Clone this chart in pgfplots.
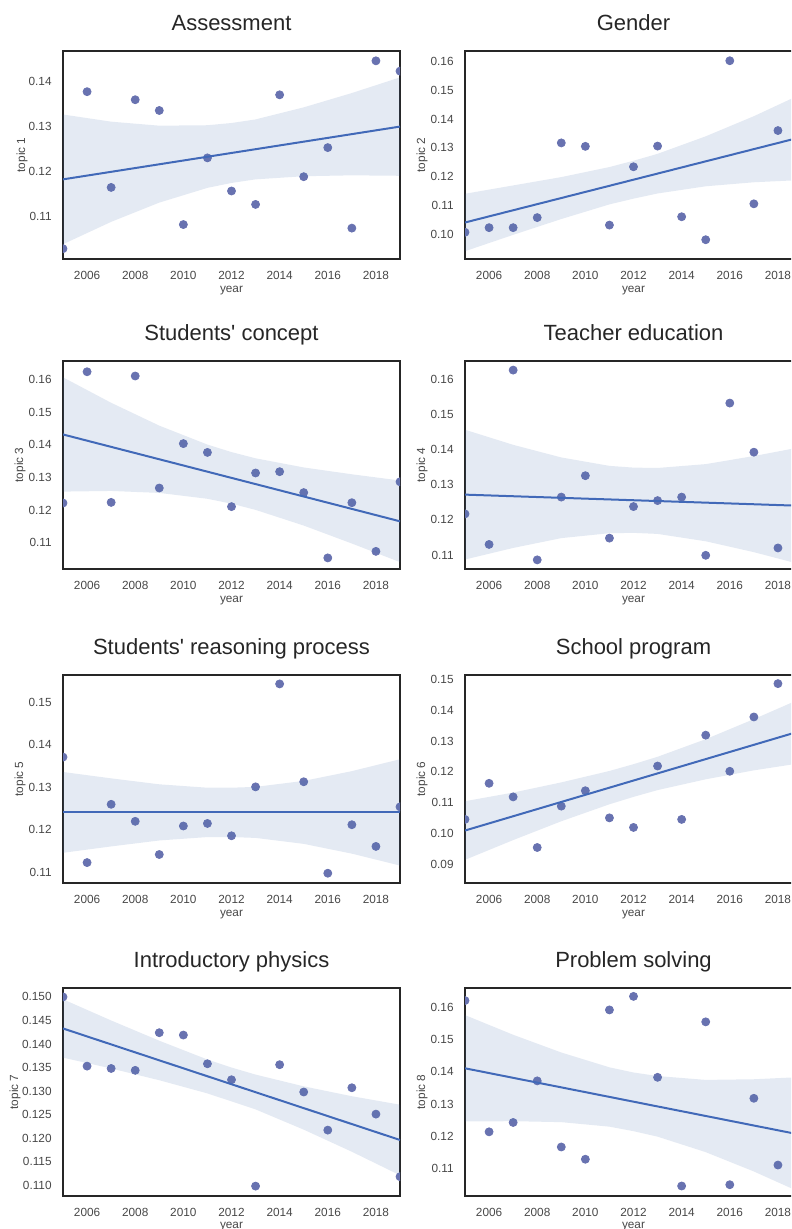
\documentclass[border=0pt]{standalone}
\usepackage{fontspec}
\setmainfont{Liberation Sans}
\usepackage{pgfplots}
\pgfplotsset{compat=1.18}
\definecolor{sbblue}{HTML}{4C72B0}
\definecolor{ptc}{HTML}{6872B0}
\definecolor{linec}{HTML}{4169B8}
\definecolor{txt}{HTML}{262626}
\newlength\px
\setlength\px{0.5pt}
\newcommand\ticksize{\fontsize{5.9pt}{7pt}\selectfont}
\newcommand\titlesize{\fontsize{11pt}{13pt}\selectfont}
\pgfplotsset{
  panel/.style={
    scale only axis, width=337\px, height=208\px,
    xmin=2005, xmax=2019,
    xtick={2006,2008,2010,2012,2014,2016,2018},
    xticklabels={2006,2008,2010,2012,2014,2016,2018},
    major tick length=0pt, tick style={draw=none},
    /pgf/number format/assume math mode=true,
    axis line style={draw=txt, line width=1pt},
    tick label style={font=\ticksize, text=txt!85},
    xticklabel style={anchor=north, inner sep=0pt, yshift=-6pt},
    yticklabel style={anchor=east, inner sep=0pt, xshift=-5.5pt},
    xlabel={year},
    xlabel style={font=\ticksize, text=txt!85, at={(axis description cs:0.5,0)}, anchor=north, inner sep=0pt, yshift=-13.5pt},
    ylabel style={font=\ticksize, text=txt!85, anchor=center, inner sep=0pt},
    title style={font=\titlesize, text=txt, at={(axis description cs:0.5,1)}, anchor=base, inner sep=0pt, yshift=4pt},
    clip marker paths=true,
    anchor=north west,
  },
  pts/.style={only marks, mark=*, mark size=2pt, color=ptc, mark options={solid, draw=ptc, fill=ptc, line width=0.4pt}},
  band/.style={fill=sbblue, fill opacity=0.15, draw=none},
  reg/.style={linec, line width=1pt},
}
\begin{document}
\begin{tikzpicture}
\path[use as bounding box, clip] (0,0) rectangle (791\px,1229\px);
% ---------------- Panel 1
\begin{axis}[panel, at={(63\px,1178\px)},
  ymin=0.1004, ymax=0.1469,
  ytick={0.11,0.12,0.13,0.14}, yticklabels={0.11,0.12,0.13,0.14},
  title={Assessment}, ylabel={topic 1},
  ylabel style={at={(axis description cs:-0.1217,0.5)}}]
\addplot[pts] coordinates {(2005,0.1027)(2006,0.1378)(2007,0.1164)(2008,0.1360)(2009,0.1336)(2010,0.1081)(2011,0.1230)(2012,0.1156)(2013,0.1126)(2014,0.1371)(2015,0.1188)(2016,0.1253)(2017,0.1073)(2018,0.1447)(2019,0.1424)};
\addplot[band] coordinates {(2005,0.1327)(2007,0.1311)(2009,0.1302)(2011,0.1303)(2012,0.1308)(2013,0.1316)(2015,0.1343)(2017,0.1375)(2019,0.1410)
 (2019,0.1190)(2017,0.1191)(2015,0.1189)(2013,0.1182)(2012,0.1174)(2011,0.1163)(2009,0.1130)(2007,0.1087)(2005,0.1037)};
\addplot[reg] coordinates {(2005,0.1182)(2019,0.1300)};
\end{axis}
% ---------------- Panel 2
\begin{axis}[panel, at={(465\px,1178\px)},
  ymin=0.0913, ymax=0.1637,
  ytick={0.10,0.11,0.12,0.13,0.14,0.15,0.16}, yticklabels={0.10,0.11,0.12,0.13,0.14,0.15,0.16},
  title={Gender}, ylabel={topic 2},
  ylabel style={at={(axis description cs:-0.1276,0.5)}}]
\addplot[pts] coordinates {(2005,0.1006)(2006,0.1022)(2007,0.1022)(2008,0.1057)(2009,0.1317)(2010,0.1305)(2011,0.1031)(2012,0.1234)(2013,0.1306)(2014,0.1060)(2015,0.0980)(2016,0.1603)(2017,0.1105)(2018,0.1360)(2019,0.1400)};
\addplot[band] coordinates {(2005,0.1140)(2007,0.1169)(2009,0.1198)(2011,0.1233)(2012,0.1255)(2013,0.1279)(2015,0.1340)(2017,0.1410)(2019,0.1488)
 (2019,0.1188)(2017,0.1180)(2015,0.1166)(2013,0.1141)(2012,0.1123)(2011,0.1103)(2009,0.1052)(2007,0.0997)(2005,0.0940)};
\addplot[reg] coordinates {(2005,0.1040)(2019,0.1338)};
\end{axis}
% ---------------- Panel 3
\begin{axis}[panel, at={(63\px,868\px)},
  ymin=0.1020, ymax=0.1657,
  ytick={0.11,0.12,0.13,0.14,0.15,0.16}, yticklabels={0.11,0.12,0.13,0.14,0.15,0.16},
  title={Students\textquotesingle{} concept}, ylabel={topic 3},
  ylabel style={at={(axis description cs:-0.1276,0.5)}}]
\addplot[pts] coordinates {(2005,0.1222)(2006,0.1624)(2007,0.1224)(2008,0.1611)(2009,0.1268)(2010,0.1404)(2011,0.1377)(2012,0.1211)(2013,0.1314)(2014,0.1318)(2015,0.1254)(2016,0.1054)(2017,0.1223)(2018,0.1074)(2019,0.1287)};
\addplot[band] coordinates {(2005,0.1607)(2007,0.1529)(2009,0.1459)(2011,0.1401)(2012,0.1378)(2013,0.1359)(2015,0.1331)(2017,0.1310)(2019,0.1291)
 (2019,0.1041)(2017,0.1098)(2015,0.1153)(2013,0.1201)(2012,0.1220)(2011,0.1235)(2009,0.1253)(2007,0.1259)(2005,0.1257)};
\addplot[reg] coordinates {(2005,0.1432)(2019,0.1166)};
\end{axis}
% ---------------- Panel 4
\begin{axis}[panel, at={(465\px,868\px)},
  ymin=0.1060, ymax=0.1653,
  ytick={0.11,0.12,0.13,0.14,0.15,0.16}, yticklabels={0.11,0.12,0.13,0.14,0.15,0.16},
  title={Teacher education}, ylabel={topic 4},
  ylabel style={at={(axis description cs:-0.1276,0.5)}}]
\addplot[pts] coordinates {(2005,0.1217)(2006,0.1130)(2007,0.1627)(2008,0.1086)(2009,0.1265)(2010,0.1326)(2011,0.1148)(2012,0.1238)(2013,0.1255)(2014,0.1265)(2015,0.1099)(2016,0.1533)(2017,0.1393)(2018,0.1120)(2019,0.1140)};
\addplot[band] coordinates {(2005,0.1457)(2007,0.1414)(2009,0.1378)(2011,0.1354)(2012,0.1349)(2013,0.1348)(2015,0.1359)(2017,0.1382)(2019,0.1408)
 (2019,0.1072)(2017,0.1108)(2015,0.1139)(2013,0.1160)(2012,0.1163)(2011,0.1162)(2009,0.1148)(2007,0.1120)(2005,0.1087)};
\addplot[reg] coordinates {(2005,0.1272)(2019,0.1240)};
\end{axis}
% ---------------- Panel 5
\begin{axis}[panel, at={(63\px,554\px)},
  ymin=0.1075, ymax=0.1564,
  ytick={0.11,0.12,0.13,0.14,0.15}, yticklabels={0.11,0.12,0.13,0.14,0.15},
  title={Students\textquotesingle{} reasoning process}, ylabel={topic 5},
  ylabel style={at={(axis description cs:-0.1276,0.5)}}]
\addplot[pts] coordinates {(2005,0.1371)(2006,0.1123)(2007,0.1260)(2008,0.1220)(2009,0.1142)(2010,0.1209)(2011,0.1215)(2012,0.1186)(2013,0.1301)(2014,0.1543)(2015,0.1313)(2016,0.1098)(2017,0.1212)(2018,0.1161)(2019,0.1254)};
\addplot[band] coordinates {(2005,0.1336)(2007,0.1321)(2009,0.1307)(2011,0.1299)(2012,0.1299)(2013,0.1301)(2015,0.1315)(2017,0.1338)(2019,0.1366)
 (2019,0.1116)(2017,0.1144)(2015,0.1167)(2013,0.1181)(2012,0.1183)(2011,0.1183)(2009,0.1175)(2007,0.1161)(2005,0.1146)};
\addplot[reg] coordinates {(2005,0.1242)(2019,0.1242)};
\end{axis}
% ---------------- Panel 6
\begin{axis}[panel, at={(465\px,554\px)},
  ymin=0.0840, ymax=0.1514,
  ytick={0.09,0.10,0.11,0.12,0.13,0.14,0.15}, yticklabels={0.09,0.10,0.11,0.12,0.13,0.14,0.15},
  title={School program}, ylabel={topic 6},
  ylabel style={at={(axis description cs:-0.1276,0.5)}}]
\addplot[pts] coordinates {(2005,0.1046)(2006,0.1163)(2007,0.1119)(2008,0.0955)(2009,0.1089)(2010,0.1139)(2011,0.1051)(2012,0.1020)(2013,0.1219)(2014,0.1046)(2015,0.1319)(2016,0.1202)(2017,0.1378)(2018,0.1486)(2019,0.1350)};
\addplot[band] coordinates {(2005,0.1105)(2007,0.1133)(2009,0.1166)(2011,0.1203)(2012,0.1225)(2013,0.1249)(2015,0.1306)(2017,0.1371)(2019,0.1439)
 (2019,0.1229)(2017,0.1205)(2015,0.1176)(2013,0.1141)(2012,0.1119)(2011,0.1095)(2009,0.1040)(2007,0.0979)(2005,0.0915)};
\addplot[reg] coordinates {(2005,0.1010)(2019,0.1334)};
\end{axis}
% ---------------- Panel 7
\begin{axis}[panel, at={(63\px,241\px)},
  ymin=0.1077, ymax=0.1519,
  ytick={0.110,0.115,0.120,0.125,0.130,0.135,0.140,0.145,0.150}, yticklabels={0.110,0.115,0.120,0.125,0.130,0.135,0.140,0.145,0.150},
  title={Introductory physics}, ylabel={topic 7},
  ylabel style={at={(axis description cs:-0.1424,0.5)}},
  xlabel style={yshift=0.8pt}]
\addplot[pts] coordinates {(2005,0.1500)(2006,0.1353)(2007,0.1348)(2008,0.1344)(2009,0.1424)(2010,0.1419)(2011,0.1358)(2012,0.1324)(2013,0.1098)(2014,0.1356)(2015,0.1298)(2016,0.1217)(2017,0.1307)(2018,0.1251)(2019,0.1118)};
\addplot[band] coordinates {(2005,0.1495)(2007,0.1450)(2009,0.1407)(2011,0.1367)(2012,0.1350)(2013,0.1335)(2015,0.1310)(2017,0.1289)(2019,0.1271)
 (2019,0.1121)(2017,0.1171)(2015,0.1218)(2013,0.1261)(2012,0.1278)(2011,0.1295)(2009,0.1323)(2007,0.1348)(2005,0.1371)};
\addplot[reg] coordinates {(2005,0.1433)(2019,0.1196)};
\end{axis}
% ---------------- Panel 8
\begin{axis}[panel, at={(465\px,241\px)},
  ymin=0.1015, ymax=0.1660,
  ytick={0.11,0.12,0.13,0.14,0.15,0.16}, yticklabels={0.11,0.12,0.13,0.14,0.15,0.16},
  title={Problem solving}, ylabel={topic 8},
  ylabel style={at={(axis description cs:-0.1276,0.5)}},
  xlabel style={yshift=0.8pt}]
\addplot[pts] coordinates {(2005,0.1621)(2006,0.1214)(2007,0.1243)(2008,0.1372)(2009,0.1167)(2010,0.1129)(2011,0.1592)(2012,0.1634)(2013,0.1383)(2014,0.1046)(2015,0.1555)(2016,0.1050)(2017,0.1318)(2018,0.1111)(2019,0.1185)};
\addplot[band] coordinates {(2005,0.1576)(2007,0.1515)(2009,0.1460)(2011,0.1414)(2012,0.1398)(2013,0.1387)(2015,0.1375)(2017,0.1377)(2019,0.1384)
 (2019,0.1024)(2017,0.1091)(2015,0.1151)(2013,0.1199)(2012,0.1216)(2011,0.1230)(2009,0.1244)(2007,0.1247)(2005,0.1246)};
\addplot[reg] coordinates {(2005,0.1411)(2019,0.1204)};
\end{axis}
\end{tikzpicture}
\end{document}
